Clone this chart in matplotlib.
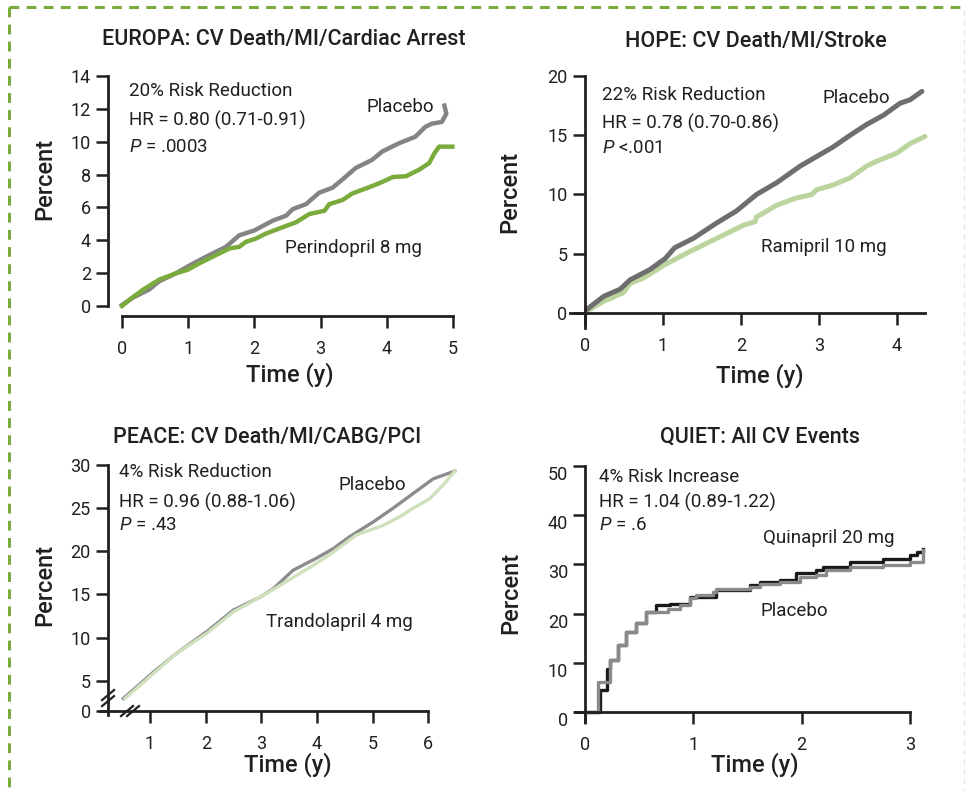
import numpy as np
import matplotlib
matplotlib.use("Agg")
import matplotlib.pyplot as plt
import matplotlib.transforms as mtrans
from matplotlib import font_manager
from matplotlib.lines import Line2D

# ---------------- data ----------------
# EUROPA
eu_x_pla = [0, 0.16, 0.41, 0.56, 0.82, 0.99, 1.27, 1.57, 1.77, 2.0, 2.28, 2.48, 2.58, 2.78, 2.98,
            3.18, 3.33, 3.53, 3.78, 3.93, 4.18, 4.43, 4.58, 4.68, 4.83, 4.90, 4.87]
eu_y_pla = [0.06, 0.5, 1.0, 1.5, 2.0, 2.4, 3.0, 3.6, 4.3, 4.6, 5.2, 5.5, 5.9, 6.2, 6.9,
            7.2, 7.7, 8.4, 8.9, 9.4, 9.9, 10.3, 10.9, 11.1, 11.2, 11.7, 12.2]
eu_x_per = [0, 0.11, 0.31, 0.56, 0.82, 0.99, 1.17, 1.37, 1.62, 1.77, 1.87, 2.02, 2.17, 2.43,
            2.63, 2.83, 3.06, 3.13, 3.33, 3.48, 3.78, 3.93, 4.09, 4.29, 4.49, 4.64, 4.72,
            4.79, 4.99]
eu_y_per = [0, 0.37, 0.97, 1.6, 2.0, 2.2, 2.6, 3.0, 3.5, 3.6, 3.9, 4.1, 4.4, 4.8,
            5.1, 5.6, 5.8, 6.2, 6.45, 6.85, 7.3, 7.55, 7.85, 7.9, 8.3, 8.7, 9.3,
            9.7, 9.7]

# HOPE
ho_x_pla = [0.02, 0.24, 0.45, 0.58, 0.83, 1.03, 1.15, 1.39, 1.69, 1.94, 2.2, 2.46, 2.76,
            2.97, 3.18, 3.4, 3.61, 3.83, 4.04, 4.17, 4.32]
ho_y_pla = [0.28, 1.4, 2.0, 2.8, 3.65, 4.6, 5.5, 6.3, 7.6, 8.6, 10.0, 11.0, 12.4,
            13.2, 14.0, 15.0, 15.9, 16.7, 17.7, 18.0, 18.7]
ho_x_ram = [0.02, 0.24, 0.49, 0.58, 0.75, 1.03, 1.35, 1.69, 2.03, 2.18, 2.2, 2.46, 2.71,
            2.91, 2.97, 3.18, 3.4, 3.61, 3.74, 4.0, 4.17, 4.36]
ho_y_ram = [0.14, 0.98, 1.7, 2.5, 2.95, 4.1, 5.2, 6.3, 7.4, 7.7, 8.1, 9.1, 9.7,
            10.0, 10.4, 10.8, 11.4, 12.4, 12.8, 13.5, 14.3, 14.9]

# PEACE
pe_x_pla = [0.52, 1.06, 1.48, 2.02, 2.5, 2.98, 3.22, 3.57, 3.99, 4.29, 4.59, 5.01, 5.37,
            5.73, 6.09, 6.48]
pe_y_pla = [2.95, 6.0, 8.2, 10.7, 13.2, 14.7, 15.7, 17.8, 19.2, 20.3, 21.7, 23.4, 25.0,
            26.7, 28.4, 29.3]
pe_x_tra = [0.55, 1.06, 1.48, 2.02, 2.5, 2.98, 3.4, 3.99, 4.29, 4.71, 5.19, 5.49, 5.73,
            6.03, 6.27, 6.48]
pe_y_tra = [2.95, 5.85, 8.2, 10.5, 13.0, 14.7, 16.3, 18.6, 19.9, 21.9, 23.0, 24.0, 25.0,
            26.1, 27.7, 29.3]

# QUIET (step curves)
qu_x_pla = [0, 0.117, 0.225, 0.302, 0.379, 0.472, 0.564, 0.765, 0.873, 0.965, 1.027, 1.181,
            1.212, 1.52, 1.613, 1.798, 1.983, 2.137, 2.229, 2.445, 2.754, 3.0, 3.124, 3.124]
qu_y_pla = [0, 6.1, 10.5, 13.6, 16.3, 18.0, 20.4, 21.0, 21.7, 23.1, 23.7, 24.4,
            25.1, 25.4, 26.1, 26.5, 27.5, 27.8, 28.8, 29.5, 29.9, 30.5, 30.7, 32.9]
qu_x_qui = [0, 0.133, 0.2, 0.225, 0.302, 0.379, 0.472, 0.564, 0.657, 0.78, 0.965, 1.212,
            1.52, 1.613, 1.798, 1.952, 2.137, 2.199, 2.353, 2.445, 2.754, 3.0, 3.062, 3.124]
qu_y_qui = [0, 4.4, 8.8, 10.5, 13.6, 16.3, 18.0, 20.4, 21.7, 22.0, 23.4, 24.8,
            25.8, 26.5, 26.8, 28.2, 28.8, 29.5, 29.5, 30.5, 31.2, 31.9, 32.6, 33.1]

titles = ["EUROPA: CV Death/MI/Cardiac Arrest", "HOPE: CV Death/MI/Stroke",
          "PEACE: CV Death/MI/CABG/PCI", "QUIET: All CV Events"]
stats = [["20% Risk Reduction", "HR = 0.80 (0.71-0.91)", "$P$ = .0003"],
         ["22% Risk Reduction", "HR = 0.78 (0.70-0.86)", "$P$ <.001"],
         ["4% Risk Reduction", "HR = 0.96 (0.88-1.06)", "$P$ = .43"],
         ["4% Risk Increase", "HR = 1.04 (0.89-1.22)", "$P$ = .6"]]

# ---------------- style ----------------
fam = "Roboto"
plt.rcParams["font.family"] = [fam, "DejaVu Sans"]
plt.rcParams["mathtext.fontset"] = "custom"
plt.rcParams["mathtext.rm"] = fam
plt.rcParams["mathtext.it"] = fam + ":italic"
ink = "#231f20"
green = "#7aab3c"

W, H = 966, 791
fig = plt.figure(figsize=(W / 100, H / 100), dpi=100)


def box(l, t, r, b):
    return [l / W, 1 - b / H, (r - l) / W, (b - t) / H]


def ftext(x, y, s, **kw):
    kw.setdefault("color", ink)
    kw.setdefault("va", "center")
    fig.text(x / W, 1 - y / H, s, **kw)


def style(ax):
    for s in ["top", "right"]:
        ax.spines[s].set_visible(False)
    for s in ["left", "bottom"]:
        ax.spines[s].set_linewidth(2.0)
        ax.spines[s].set_color(ink)
    ax.tick_params(direction="out", length=8.5, width=1.8, color=ink,
                   labelsize=13, labelcolor=ink)
    ax.tick_params(axis="x", pad=9)
    ax.tick_params(axis="y", pad=4)
    ax.patch.set_alpha(0)


# panel 1: EUROPA
ax1 = fig.add_axes(box(122, 76, 453, 306))
style(ax1)
ax1.set_xlim(0, 5)
ax1.set_ylim(0, 14)
ax1.spines["left"].set_position(("outward", 10))
ax1.spines["bottom"].set_position(("outward", 7.2))
ax1.set_xticks(range(6))
ax1.set_yticks(range(0, 15, 2))
ax1.plot(eu_x_pla, eu_y_pla, color="#848484", lw=3.2, clip_on=False, solid_joinstyle="round")
ax1.plot(eu_x_per, eu_y_per, color=green, lw=3.2, clip_on=False, solid_joinstyle="round")

# panel 2: HOPE
ax2 = fig.add_axes(box(570, 76, 925, 328))
style(ax2)
ax2.set_xlim(-0.192, 4.36)
ax2.set_ylim(-1.27, 20)
ax2.spines["left"].set_position(("data", 0))
ax2.spines["bottom"].set_position(("data", 0))
ax2.set_xticks(range(5))
ax2.set_yticks(range(0, 21, 5))
ax2.plot(ho_x_ram, ho_y_ram, color="#bcd59f", lw=3.6, clip_on=False, solid_capstyle="round")
ax2.plot(ho_x_pla, ho_y_pla, color="#6e6e6e", lw=3.6, clip_on=False, solid_capstyle="round")

# panel 3: PEACE (broken axes)
ax3 = fig.add_axes(box(100, 465, 456, 715))
style(ax3)
ax3.set_xlim(0.1, 6.5)
ax3.set_ylim(1.04, 30)
y0 = 1.5
x0 = 0.245
ax3.spines["left"].set_position(("data", x0))
ax3.spines["bottom"].set_position(("data", y0))
ax3.spines["bottom"].set_bounds(0.1, 6.0)
ax3.set_xticks(range(1, 7))
ax3.set_yticks([y0, 5, 10, 15, 20, 25, 30])
ax3.set_yticklabels(["0", "5", "10", "15", "20", "25", "30"])
ax3.plot(pe_x_pla, pe_y_pla, color="#8c8c8c", lw=2.4, clip_on=False)
ax3.plot(pe_x_tra, pe_y_tra, color="#cfe0bd", lw=2.4, clip_on=False)
# break marks
pxx = (6.5 - 0.1) / (456 - 100)
pxy = (30 - 1.04) / (715 - 465)
for cx, cy, dx, dy in [(x0, 3.0, 0, 1), (0.64, y0, 1, 0)]:
    for k in (-1, 1):
        ox = cx + k * 3 * dx * pxx
        oy = cy + k * 3 * dy * pxy
        ax3.plot([ox - 6 * pxx, ox + 6 * pxx], [oy - 5 * pxy, oy + 5 * pxy],
                 color=ink, lw=1.6, clip_on=False)

# panel 4: QUIET
ax4 = fig.add_axes(box(575, 466, 925, 722))
style(ax4)
ax4.set_xlim(-0.095, 3.14)
ax4.set_ylim(-2.03, 50)
ax4.spines["left"].set_position(("data", 0))
ax4.spines["bottom"].set_position(("data", 0))
ax4.spines["bottom"].set_bounds(-0.095, 3.0)
ax4.set_xticks(range(4))
ax4.set_yticks(range(0, 51, 10))
ax4.plot(qu_x_qui, qu_y_qui, color="#1a1a1a", lw=2.4, drawstyle="steps-post", clip_on=False)
ax4.plot(qu_x_pla, qu_y_pla, color="#8a8a8a", lw=2.4, drawstyle="steps-post", clip_on=False)
shift = mtrans.ScaledTranslation(0, -7 / 100, fig.dpi_scale_trans)
for lab in ax4.get_yticklabels():
    lab.set_transform(lab.get_transform() + shift)

# ---------------- text ----------------
tkw = dict(fontsize=15.5, fontweight="medium", ha="center")
ftext(284, 40, titles[0], **tkw)
ftext(756, 41, titles[1], **tkw)
ftext(267, 437, titles[2], **tkw)
ftext(760, 437, titles[3], **tkw)

akw = dict(fontsize=13.5)
for (lx, ys), st in zip([(129, (91, 120, 147)), (602, (95, 123, 148)),
                         (119, (472, 502, 525)), (599, (477, 502, 525))], stats):
    for yy, s in zip(ys, st):
        ftext(lx, yy, s, **akw)

ftext(367, 107, "Placebo", **akw)
ftext(285, 248, "Perindopril 8 mg", **akw)
ftext(822, 98, "Placebo", **akw)
ftext(761, 247, "Ramipril 10 mg", **akw)
ftext(339, 485, "Placebo", **akw)
ftext(266, 622, "Trandolapril 4 mg", **akw)
ftext(763, 538, "Quinapril 20 mg", **akw)
ftext(761, 611, "Placebo", **akw)

lkw = dict(fontsize=17, fontweight="medium", ha="center")
for x, y in [(45, 179), (510, 192), (45, 585), (511, 593)]:
    ftext(x, y, "Percent", rotation=90, **lkw)
for x, y in [(290, 375), (760, 376), (288, 765), (755, 765)]:
    ftext(x, y, "Time (y)", **lkw)

# dashed frame
fig.add_artist(Line2D([9 / W, 9 / W], [1 - 7 / H, 0], transform=fig.transFigure,
                      color=green, lw=2.2, ls=(0, (3.2, 2.4))))
fig.add_artist(Line2D([9 / W, 963 / W], [1 - 7 / H, 1 - 7 / H], transform=fig.transFigure,
                      color=green, lw=2.2, ls=(0, (3.2, 2.4))))
fig.add_artist(Line2D([964 / W, 964 / W], [1 - 10 / H, 0], transform=fig.transFigure,
                      color="#e6e6e6", lw=1.0, ls=(0, (4, 3))))

fig.savefig("out.png", dpi=100)
